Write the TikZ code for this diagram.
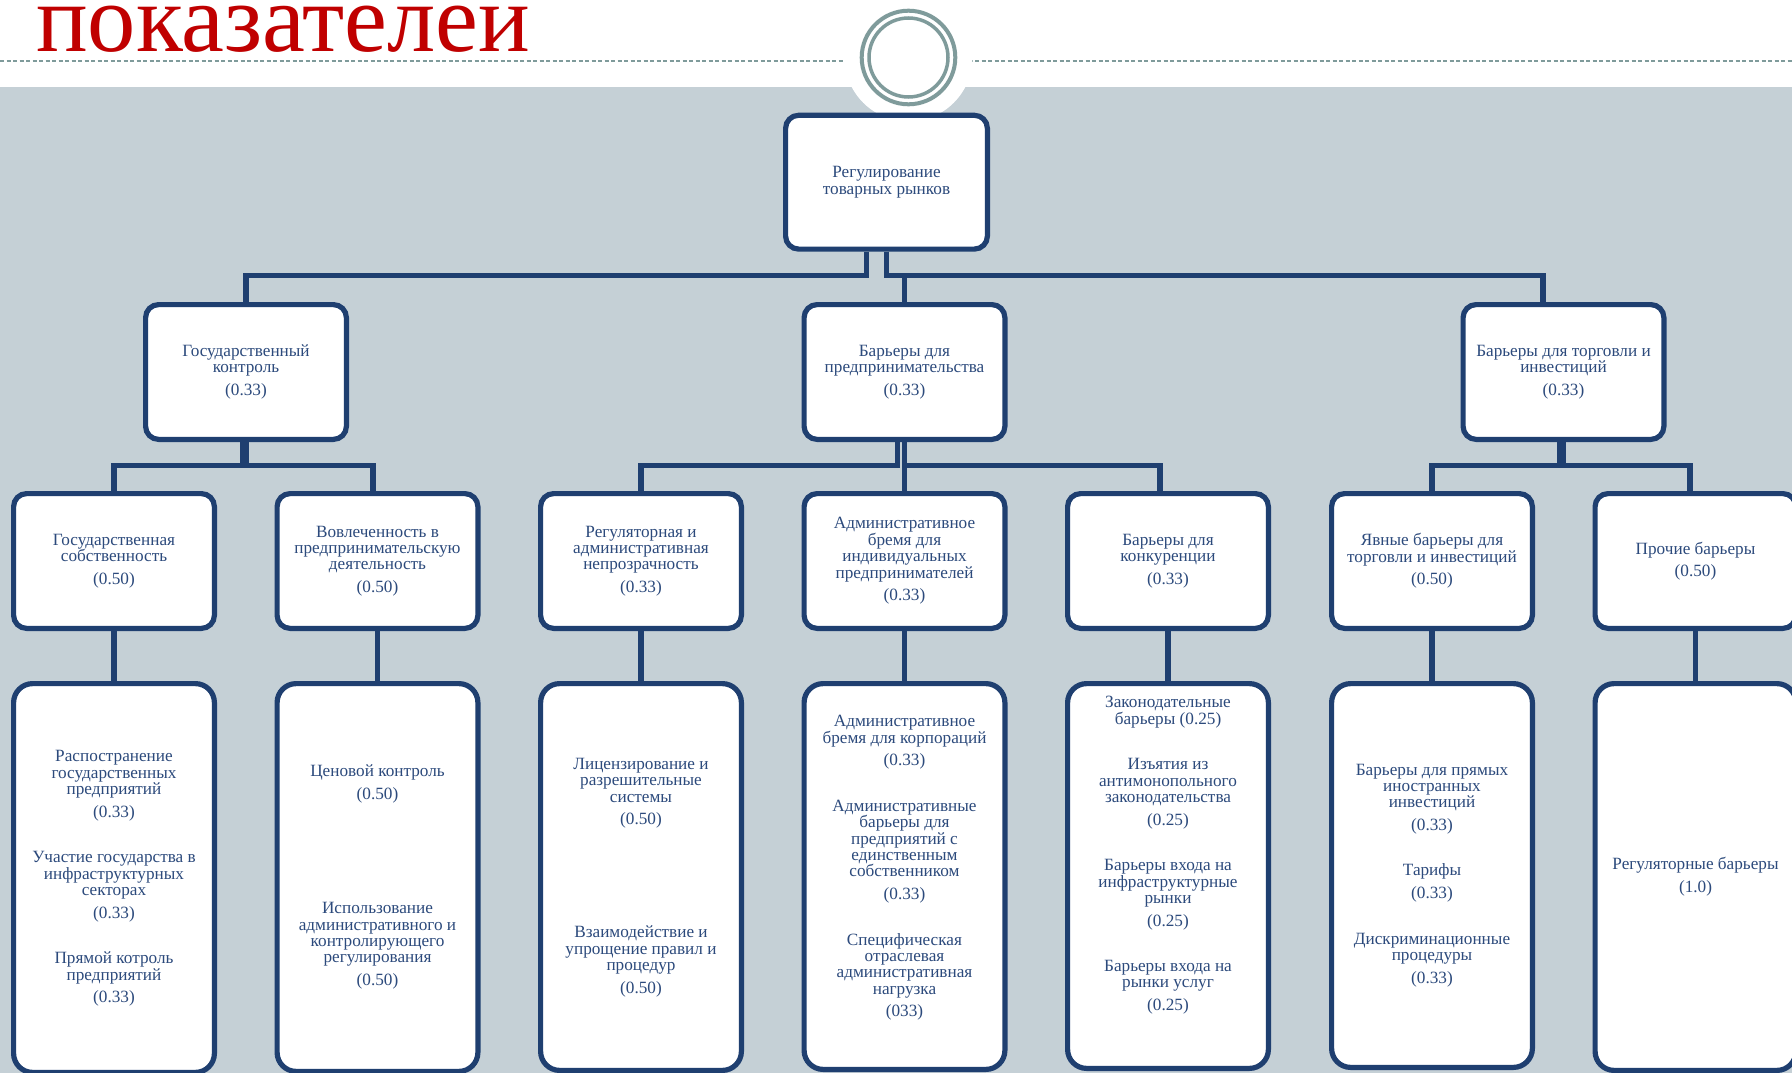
\documentclass[tikz,border=0pt]{standalone}
\usepackage{fontspec}
\setmainfont{Liberation Serif}
\definecolor{navy}{RGB}{31,63,112}
\definecolor{textblue}{RGB}{44,74,124}
\definecolor{bandgray}{RGB}{197,208,214}
\definecolor{ringgray}{RGB}{127,155,155}
\definecolor{titlered}{RGB}{192,0,0}
\newcommand{\numgap}{\\[6.2pt]}
\newcommand{\blockgap}{\\[29.1pt]}
\newcommand{\boxfont}{\fontsize{17.2}{16.4}\selectfont\lineskiplimit -20pt\relax}
\newcommand{\titlefont}{\fontsize{96.5}{96.5}\selectfont}
\tikzset{
  box/.style={draw=navy, line width=5.2pt, fill=white, rounded corners=13pt,
    minimum width=200.8pt, minimum height=134.8pt, inner sep=0pt, anchor=north,
    text=textblue, align=center, font=\boxfont},
  tallbox/.style={box, rounded corners=19pt},
  conn/.style={draw=navy, line width=5.2pt, line join=miter},
  lbl/.style={text=textblue, align=center, inner sep=0pt, font=\boxfont},
}
\begin{document}
\begin{tikzpicture}[x=1pt,y=-1pt]
\useasboundingbox (0,0) rectangle (1792,1073);
\clip (0,0) rectangle (1792,1073);
\fill[white] (0,0) rectangle (1792,1073);
\fill[bandgray] (0,87) rectangle (1792,1073);
\draw[ringgray, line width=2pt, dash pattern=on 4pt off 2.5pt] (0,61) -- (1792,61);
\node[anchor=base west, inner sep=0pt, text=titlered, font=\titlefont] (title) at (36,52) {показателей};
\fill[white] (908.5,57.5) circle[radius=64pt];
\draw[ringgray, line width=4pt] (908.5,57.5) circle[radius=46.8pt];
\draw[ringgray, line width=3.5pt] (908.5,57.5) circle[radius=39.5pt];

% top
\node[box, minimum width=201.8pt, minimum height=133.8pt] (top) at (886.5,112.7) {Регулирование\\товарных рынков};
% level 1
\node[box] (gk) at (246,302) {Государственный\\контроль\numgap(0.33)};
\node[box] (bp) at (904.5,302) {Барьеры для\\предпринимательства\numgap(0.33)};
\node[box] (bt) at (1563.5,302) {Барьеры для торговли и\\инвестиций\numgap(0.33)};
% level 2
\node[box] (a1) at (114,491) {Государственная\\собственность\numgap(0.50)};
\node[box] (a2) at (377.5,491) {Вовлеченность в\\предпринимательскую\\деятельность\numgap(0.50)};
\node[box] (b1) at (641,491) {Регуляторная и\\административная\\непрозрачность\numgap(0.33)};
\node[box] (b2) at (904.5,491) {Административное\\бремя для\\индивидуальных\\предпринимателей\numgap(0.33)};
\node[box] (b3) at (1168,491) {Барьеры для\\конкуренции\numgap(0.33)};
\node[box] (c1) at (1432,491) {Явные барьеры для\\торговли и инвестиций\numgap(0.50)};
\node[box] (c2) at (1695.5,491) {Прочие барьеры\numgap(0.50)};
% level 3
\node[tallbox, minimum height=388.8pt] (a1x) at (114,681) {};
\node[tallbox, minimum height=387.8pt] (a2x) at (377.5,681) {};
\node[tallbox, minimum height=386.8pt] (b1x) at (641,681) {};
\node[tallbox, minimum height=385.8pt] (b2x) at (904.5,681) {};
\node[tallbox, minimum height=384.8pt] (b3x) at (1168,681) {};
\node[tallbox, minimum height=383.8pt] (c1x) at (1432,681) {};
\node[tallbox, minimum height=386.8pt] (c2x) at (1695.5,681) {};

\node[lbl] (ta1x) at (114,878.5) {Распостранение\\государственных\\предприятий\numgap(0.33)\blockgap Участие государства в\\инфраструктурных\\секторах\numgap(0.33)\blockgap Прямой котроль\\предприятий\numgap(0.33)};
\node[lbl] (ta2x) at (377.5,877) {Ценовой контроль\numgap(0.50)\\[97.9pt]Использование\\административного и\\контролирующего\\регулирования\numgap(0.50)};
\node[lbl] (tb1x) at (641,877.5) {Лицензирование и\\разрешительные\\системы\numgap(0.50)\\[96.6pt]Взаимодействие и\\упрощение правил и\\процедур\numgap(0.50)};
\node[lbl] (tb2x) at (904.5,868) {Административное\\бремя для корпораций\numgap(0.33)\blockgap Административные\\барьеры для\\предприятий с\\единственным\\собственником\numgap(0.33)\blockgap Специфическая\\отраслевая\\административная\\нагрузка\numgap(033)};
\node[lbl] (tb3x) at (1168,855.3) {Законодательные\\барьеры (0.25)\blockgap Изъятия из\\антимонопольного\\законодательства\numgap(0.25)\blockgap Барьеры входа на\\инфраструктурные\\рынки\numgap(0.25)\blockgap Барьеры входа на\\рынки услуг\numgap(0.25)};
\node[lbl] (tc1x) at (1432,875.2) {Барьеры для прямых\\иностранных\\инвестиций\numgap(0.33)\blockgap Тарифы\numgap(0.33)\blockgap Дискриминационные\\процедуры\numgap(0.33)};
\node[lbl] (tc2x) at (1695.5,876.7) {Регуляторные барьеры\numgap(1.0)};

% connectors top -> level 1
\draw[conn] ([xshift=-20pt]top.south) -- ++(0,23.8) -| (gk.north);
\draw[conn] (top.south) -- ++(0,23.8) -| (bp.north);
\draw[conn] (top.south) -- ++(0,23.8) -| ([xshift=-20.5pt]bt.north);
% level 1 -> level 2
\draw[conn] ([xshift=-3.5pt]gk.south) -- ++(0,23.5) -| (a1.north);
\draw[conn] (gk.south) -- ++(0,23.5) -| ([xshift=-4.5pt]a2.north);
\draw[conn] ([xshift=-7pt]bp.south) -- ++(0,23.5) -| (b1.north);
\draw[conn] (bp.south) -- (b2.north);
\draw[conn] (bp.south) -- ++(0,23.5) -| ([xshift=-8pt]b3.north);
\draw[conn] ([xshift=-3.5pt]bt.south) -- ++(0,23.5) -| (c1.north);
\draw[conn] (bt.south) -- ++(0,23.5) -| ([xshift=-5.5pt]c2.north);
% level 2 -> level 3
\draw[conn] (a1.south) -- (a1x.north);
\draw[conn] (a2.south) -- (a2x.north);
\draw[conn] (b1.south) -- (b1x.north);
\draw[conn] (b2.south) -- (b2x.north);
\draw[conn] (b3.south) -- (b3x.north);
\draw[conn] (c1.south) -- (c1x.north);
\draw[conn] (c2.south) -- (c2x.north);
\end{tikzpicture}
\end{document}
